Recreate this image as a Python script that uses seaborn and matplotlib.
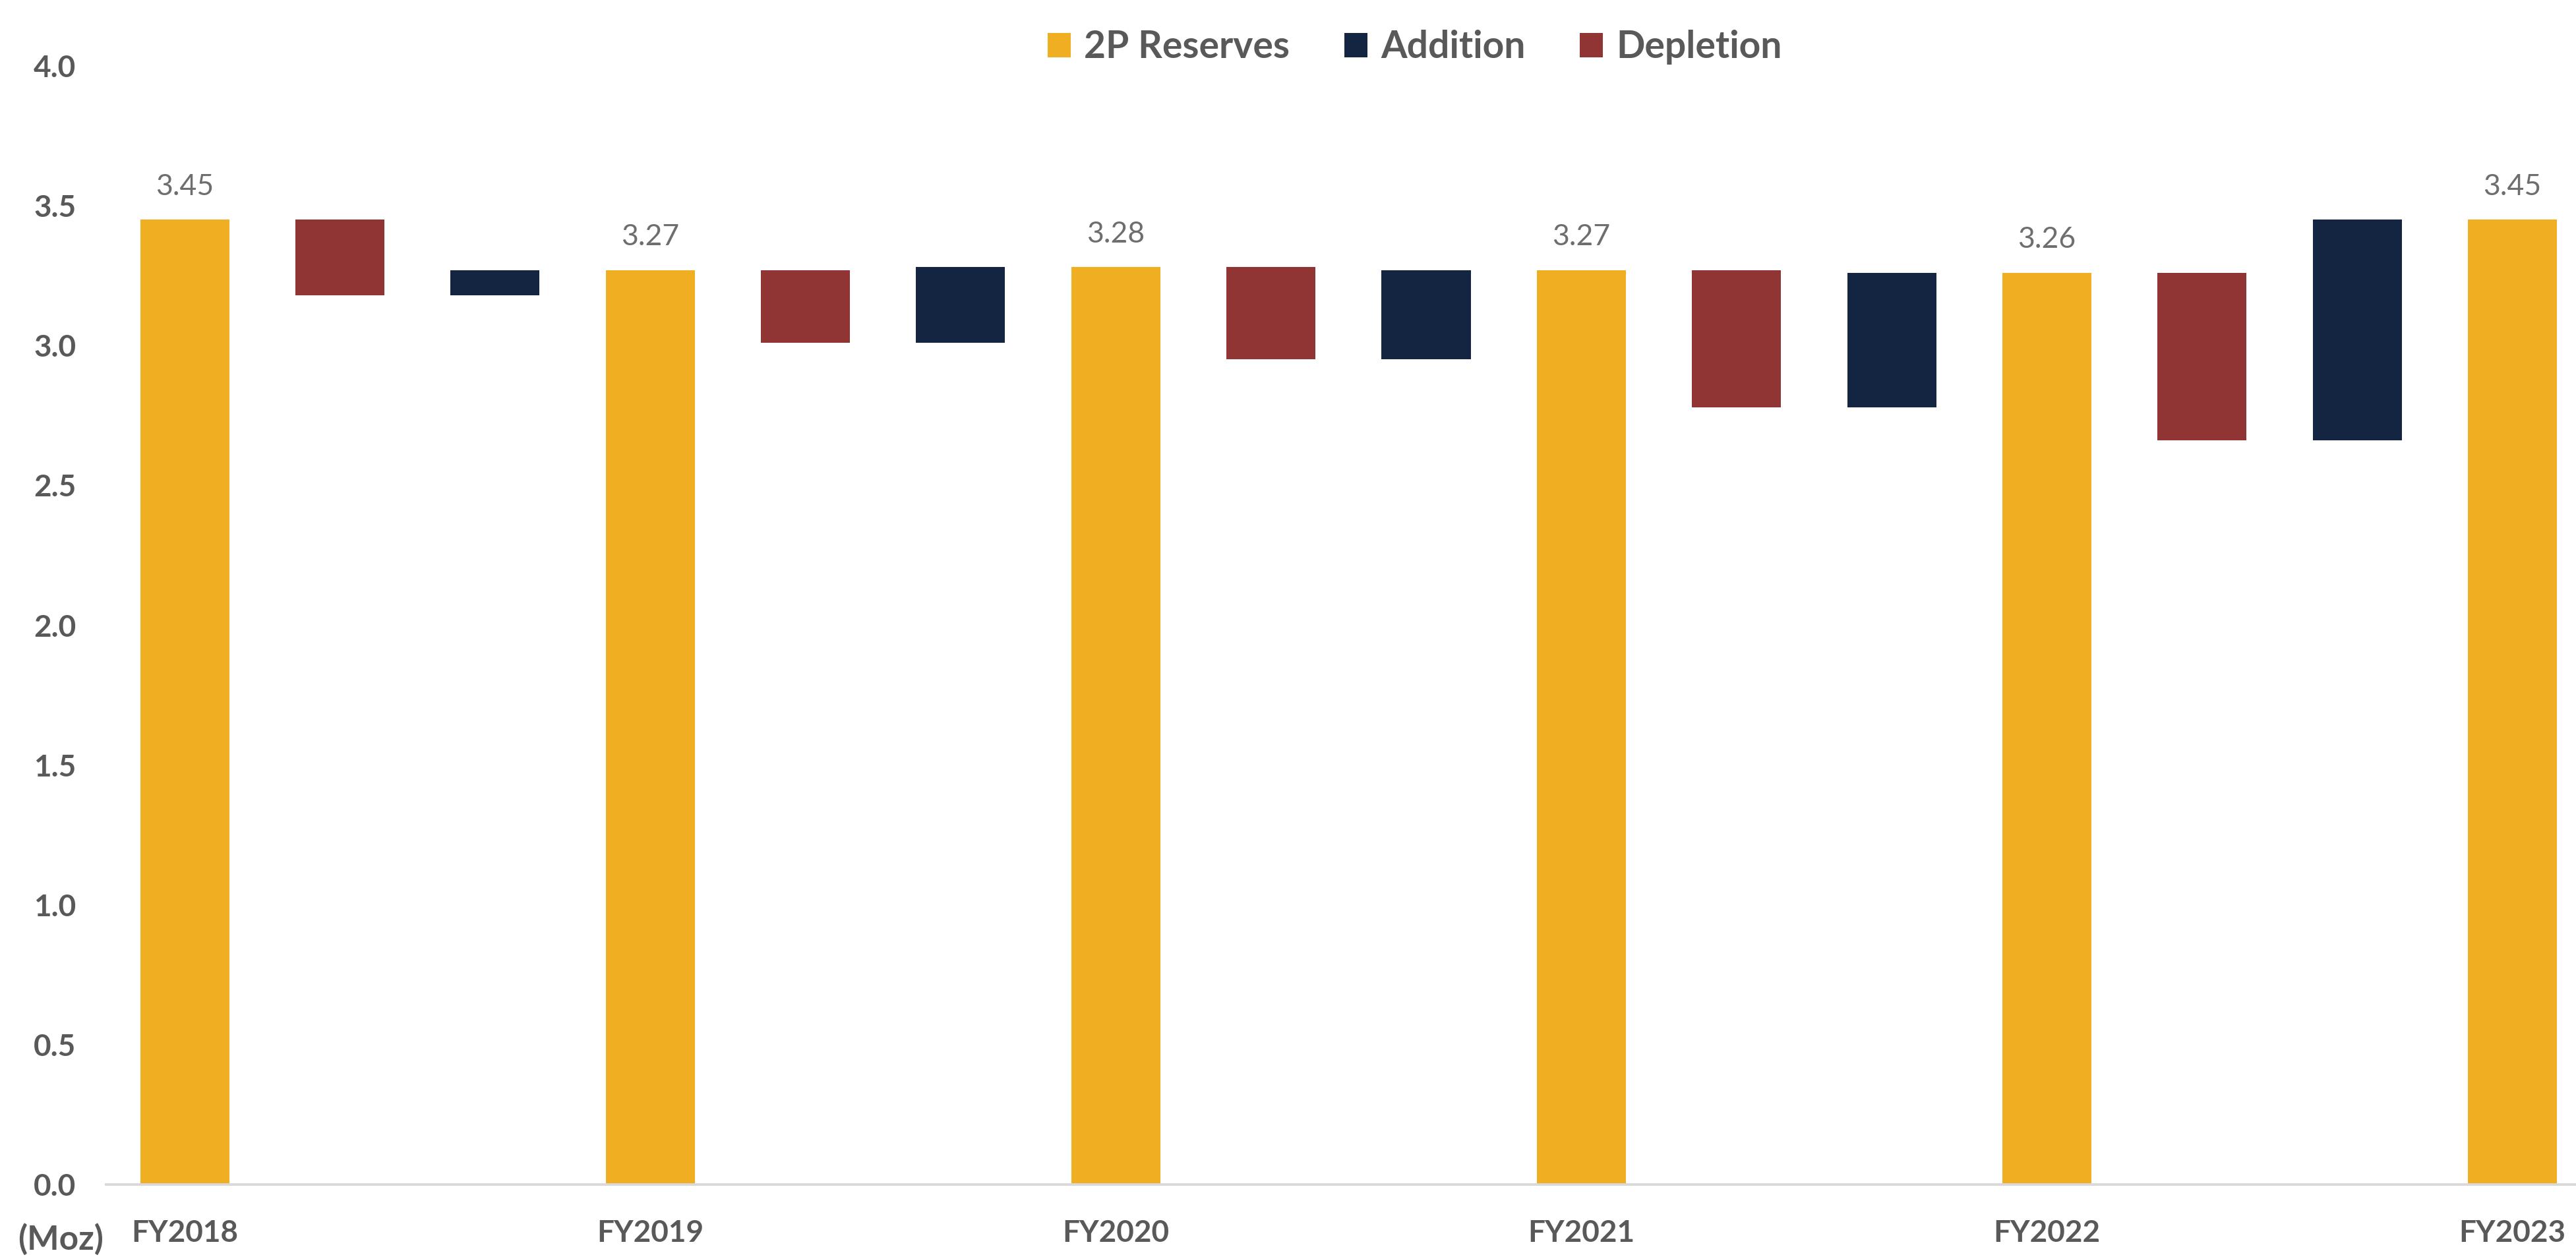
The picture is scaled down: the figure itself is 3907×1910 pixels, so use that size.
import matplotlib
matplotlib.use("Agg")
import matplotlib.pyplot as plt
import numpy as np
import pandas as pd
import seaborn as sns
from matplotlib.patches import Patch

# 2P reserves by fiscal year and the yearly movements between them (Moz)
years = ["FY2018", "FY2019", "FY2020", "FY2021", "FY2022", "FY2023"]
reserves = [3.45, 3.27, 3.28, 3.27, 3.26, 3.45]
depletion = [-0.27, -0.26, -0.33, -0.49, -0.60]
addition = [0.09, 0.27, 0.32, 0.48, 0.79]

colors = {"2P Reserves": "#F0AE22", "Addition": "#132540", "Depletion": "#913434"}
text_gray = "#595959"

# Waterfall table: each year-end total, followed by its depletion and addition steps
rows = []
for i, year in enumerate(years):
    rows.append(dict(slot=year, kind="2P Reserves", base=0.0, height=reserves[i]))
    if i < len(depletion):
        after_dep = reserves[i] + depletion[i]
        rows.append(dict(slot=f"{year} depletion", kind="Depletion",
                         base=after_dep, height=-depletion[i]))
        rows.append(dict(slot=f"{year} addition", kind="Addition",
                         base=after_dep, height=addition[i]))
df = pd.DataFrame(rows)
order = list(df["slot"])

sns.set_theme(style="white")
plt.rcParams["font.family"] = ["Lato", "DejaVu Sans"]

W, H, DPI = 3907, 1910, 100
fig = plt.figure(figsize=(W / DPI, H / DPI), dpi=DPI)
ax = fig.add_axes([161 / W, (H - 1797) / H, 1 - 161 / W, (1797 - 100) / H])

for kind in ["2P Reserves", "Depletion", "Addition"]:
    sub = df[df["kind"] == kind]
    sns.barplot(data=sub, x="slot", y="height", order=order, ax=ax,
                color=colors[kind], saturation=1, width=0.574, errorbar=None,
                bottom=sub["base"].to_numpy(), linewidth=0)

# Value labels above the year-end totals
for year, val in zip(years, reserves):
    ax.text(order.index(year), val + 0.07, f"{val:.2f}", ha="center", va="bottom",
            fontsize=32, color="#6E6E6E")

ax.set_xlim(-0.506, 15.41)
ax.set_ylim(0, 4.0)
ax.set_yticks(np.arange(0, 4.01, 0.5))
ax.set_yticklabels([f"{v:.1f}" for v in np.arange(0, 4.01, 0.5)])
ax.set_xticks([order.index(y) for y in years])
ax.set_xticklabels(years)
ax.set_xlabel("")
ax.set_ylabel("")
ax.tick_params(axis="both", length=0, labelsize=33, labelcolor=text_gray)
ax.tick_params(axis="y", pad=33)
ax.tick_params(axis="x", pad=38)
for lab in ax.get_xticklabels() + ax.get_yticklabels():
    lab.set_fontweight("bold")

for side in ["top", "right", "left"]:
    ax.spines[side].set_visible(False)
ax.spines["bottom"].set_color("#D9D9D9")
ax.spines["bottom"].set_linewidth(2.8)
ax.grid(False)

fig.text(27 / W, 1 - 1880 / H, "(Moz)", ha="left", va="center",
         fontsize=37, fontweight="bold", color=text_gray)

handles = [Patch(facecolor=colors[k], edgecolor="none") for k in ["2P Reserves", "Addition", "Depletion"]]
leg = fig.legend(handles, ["2P Reserves", "Addition", "Depletion"],
                 loc="center", bbox_to_anchor=(2146 / W, 1 - 72 / H), ncol=3,
                 frameon=False, fontsize=41, handlelength=0.62, handleheight=0.6,
                 handletextpad=0.35, columnspacing=1.45)
for t in leg.get_texts():
    t.set_color(text_gray)
    t.set_fontweight("bold")

fig.savefig("out.png", dpi=DPI, facecolor="white")
